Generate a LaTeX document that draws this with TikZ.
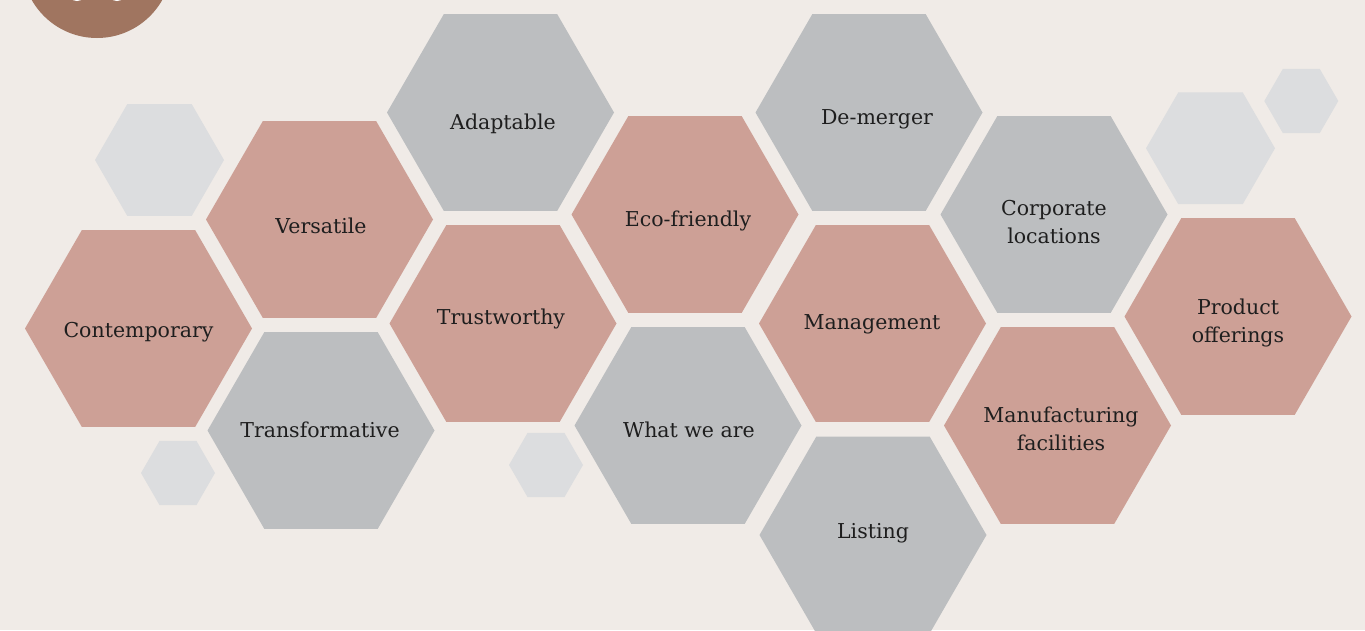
\documentclass[tikz,border=0pt]{standalone}
\usepackage{fontspec}
\setmainfont{DejaVu Serif}
\usetikzlibrary{shapes.geometric}
\definecolor{bgc}{HTML}{F0EBE7}
\definecolor{pinkc}{HTML}{CDA096}
\definecolor{grayc}{HTML}{BCBEC0}
\definecolor{lightc}{HTML}{DCDDDF}
\definecolor{circc}{HTML}{A07560}
\definecolor{txtc}{HTML}{1E1E1E}
\tikzset{
  hexbase/.style={regular polygon, regular polygon sides=6, inner sep=0pt, outer sep=0pt, draw=none},
  bighex/.style={hexbase, minimum size=227pt},
  midhex/.style={hexbase, minimum size=129pt},
  smallhex/.style={hexbase, minimum size=74pt},
  lbl/.style={font=\fontsize{20.5}{28.5}\selectfont, text=txtc, align=center, inner sep=0pt}
}
\begin{document}
\begin{tikzpicture}[x=1pt,y=-1pt]
\fill[bgc] (0,0) rectangle (1365,630);
\useasboundingbox (0,0) rectangle (1365,630);
\begin{scope}
\clip (0,0) rectangle (1365,630);
\node[circle, fill=circc, minimum size=150pt, inner sep=0pt] (circ) at (97,-37) {};
\fill[white] (77,-9) circle (10);
\fill[white] (117,-9) circle (10);
% decorative light hexagons
\node[midhex, fill=lightc] (l1) at (159.5,160) {};
\node[smallhex, fill=lightc] (l2) at (178,473) {};
\node[smallhex, fill=lightc] (l3) at (546,465) {};
\node[midhex, fill=lightc] (l4) at (1210.5,148.3) {};
\node[smallhex, fill=lightc] (l5) at (1301.3,101) {};
% main hexagons
\node[bighex, fill=pinkc] (hC) at (138.5,328.5) {};
\node[bighex, fill=pinkc] (hV) at (319.5,219.5) {};
\node[bighex, fill=grayc] (hT) at (321,430.5) {};
\node[bighex, fill=grayc] (hA) at (500.5,112.5) {};
\node[bighex, fill=pinkc] (hTr) at (503,323.5) {};
\node[bighex, fill=pinkc] (hE) at (685,214.5) {};
\node[bighex, fill=grayc] (hW) at (688,425.5) {};
\node[bighex, fill=grayc] (hD) at (869,112.5) {};
\node[bighex, fill=pinkc] (hM) at (872.5,323.5) {};
\node[bighex, fill=grayc] (hL) at (873,535) {};
\node[bighex, fill=grayc] (hCo) at (1054,214.5) {};
\node[bighex, fill=pinkc] (hMf) at (1057.5,425.5) {};
\node[bighex, fill=pinkc] (hP) at (1238,316.5) {};
\end{scope}
% labels
\node[lbl] (tC) at (138.5,332) {Contemporary};
\node[lbl] (tV) at (321,226) {Versatile};
\node[lbl] (tT) at (320,430) {Transformative};
\node[lbl] (tA) at (503,124) {Adaptable};
\node[lbl] (tTr) at (501,319) {Trustworthy};
\node[lbl] (tE) at (688,221) {Eco-friendly};
\node[lbl] (tW) at (689,430) {What we are};
\node[lbl] (tD) at (877,119) {De-merger};
\node[lbl] (tM) at (872,324) {Management};
\node[lbl] (tL) at (873,533) {Listing};
\node[lbl] (tCo) at (1054,222) {Corporate\\locations};
\node[lbl] (tMf) at (1061,429) {Manufacturing\\facilities};
\node[lbl] (tP) at (1238,323) {Product\\offerings};
\end{tikzpicture}
\end{document}
